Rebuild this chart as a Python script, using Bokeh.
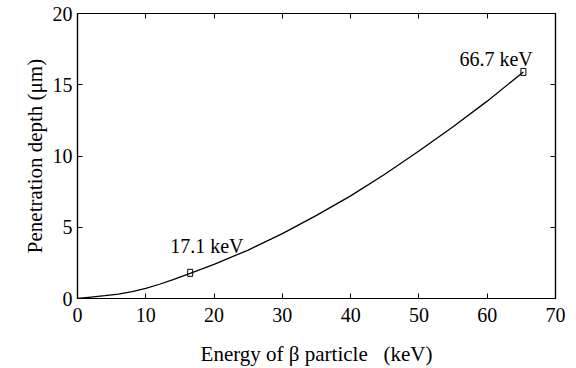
from bokeh.plotting import figure
from bokeh.models import Range1d, FixedTicker, LinearAxis, ColumnDataSource
from bokeh.embed import file_html
from bokeh.resources import INLINE
from bokeh.core.properties import value

# Data
energy_kev = [0, 2, 4, 6, 8, 10, 12, 14, 16.5, 20, 25, 30, 35, 40, 45, 50, 55, 60, 65.3]
depth_um = [0, 0.1, 0.2, 0.31, 0.48, 0.71, 1.0, 1.32, 1.76, 2.4, 3.4, 4.55, 5.83, 7.2, 8.72, 10.35, 12.05, 13.85, 15.9]

marker_x = [16.5, 65.3]
marker_y = [1.8, 15.9]
marker_labels = ["17.1 keV", "66.7 keV"]

x_ticks = [0, 10, 20, 30, 40, 50, 60, 70]
y_ticks = [0, 5, 10, 15, 20]

FONT = "Liberation Serif"

p = figure(width=576, height=368, output_backend="svg", toolbar_location=None,
           x_range=Range1d(0, 70), y_range=Range1d(0, 20),
           min_border_left=77, min_border_right=21, min_border_top=13, min_border_bottom=68)
p.background_fill_color = "white"
p.border_fill_color = "white"
p.outline_line_color = "black"
p.outline_line_width = 1.2
p.xgrid.visible = False
p.ygrid.visible = False

def style_axis(ax, ticks, show_labels=True):
    ax.ticker = FixedTicker(ticks=ticks)
    ax.minor_tick_line_color = None
    ax.major_tick_in = 5
    ax.major_tick_out = 0
    ax.major_tick_line_color = "black"
    ax.major_tick_line_width = 1
    ax.axis_line_color = "black"
    ax.axis_line_width = 1.2
    ax.major_label_text_font = FONT
    ax.major_label_text_color = "black"
    ax.major_label_text_font_size = "20px"
    ax.axis_label_text_color = "black"
    if not show_labels:
        ax.major_label_overrides = {t: "" for t in ticks}
        ax.major_label_standoff = 0

xa = p.xaxis[0]
style_axis(xa, x_ticks)
xa.major_label_standoff = 9
xa.axis_label = "Energy of β particle\u00a0\u00a0\u00a0(keV)"
xa.axis_label_text_font = FONT
xa.axis_label_text_font_style = "normal"
xa.axis_label_text_font_size = "21px"
xa.axis_label_standoff = 17

ya = p.yaxis[0]
style_axis(ya, y_ticks)
ya.major_label_standoff = 5
ya.axis_label = "Penetration depth (μm)"
ya.axis_label_text_font = FONT
ya.axis_label_text_font_style = "normal"
ya.axis_label_text_font_size = "21px"
ya.axis_label_standoff = 3

top = LinearAxis()
style_axis(top, x_ticks, show_labels=False)
p.add_layout(top, "above")
right = LinearAxis()
style_axis(right, y_ticks, show_labels=False)
p.add_layout(right, "right")

p.line(energy_kev, depth_um, line_color="black", line_width=1.3)

msrc = ColumnDataSource(dict(x=marker_x, y=marker_y, label=marker_labels))
p.rect(x="x", y="y", width=5, height=7, width_units="screen", height_units="screen",
       source=msrc, fill_color=None, line_color="black", line_width=1)

lsrc1 = ColumnDataSource(dict(x=marker_x[:1], y=marker_y[:1], label=marker_labels[:1]))
lsrc2 = ColumnDataSource(dict(x=marker_x[1:], y=marker_y[1:], label=marker_labels[1:]))
p.text(x="x", y="y", text="label", source=lsrc1, x_offset=-20, y_offset=-27,
       text_font=value(FONT), text_font_size="20px", text_color="black",
       text_align="left", text_baseline="alphabetic")
p.text(x="x", y="y", text="label", source=lsrc2, x_offset=-64, y_offset=-13,
       text_font=value(FONT), text_font_size="20px", text_color="black",
       text_align="left", text_baseline="alphabetic")

open("out.html", "w").write(file_html(p, INLINE))
